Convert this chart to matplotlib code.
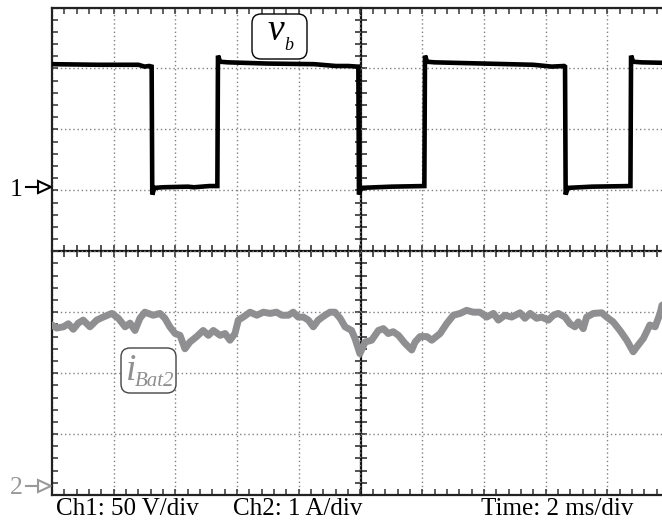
import matplotlib
matplotlib.use("Agg")
import matplotlib.pyplot as plt
from matplotlib.ticker import MultipleLocator, NullFormatter
from matplotlib.patches import FancyBboxPatch, Polygon
from matplotlib.lines import Line2D

# ---------------- data ----------------
TIME_PER_DIV = 2.0      # ms/div
CH1_V_PER_DIV = 50.0    # V/div
CH2_A_PER_DIV = 1.0     # A/div
CH1_GROUND_DIV = 5.0    # ch1 reference marker position (div from bottom)
CH2_GROUND_DIV = 0.0

# Ch1: v_b  (time in ms, voltage in V)
t_vb = [0.00, 1.50, 2.80, 3.00, 3.15, 3.23, 3.25, 3.32, 3.60, 4.40, 4.60, 5.10, 5.36,
        5.38, 5.45, 5.70, 7.00, 8.50, 9.20, 9.60, 9.90, 9.93,
        9.95, 10.02, 11.00, 12.07,
        12.09, 12.16, 12.40, 14.00, 15.60, 16.20, 16.60, 16.63,
        16.65, 16.72, 17.50, 18.75,
        18.77, 18.84, 19.10, 20.00]
v_vb = [103.5, 103.0, 103.0, 101.5, 102.0, 101.5, -3.5, 2.0, 2.5, 3.0, 2.5, 3.5, 3.5,
        110.5, 105.5, 105.0, 104.0, 103.5, 102.0, 102.0, 101.5, 101.5,
        -3.5, 2.0, 3.0, 3.5,
        110.5, 105.5, 105.0, 104.0, 103.0, 101.5, 102.0, 101.5,
        -3.5, 2.0, 3.0, 3.5,
        110.5, 105.5, 105.0, 104.5]

# Ch2: i_Bat2 (time in ms, current in A)
t_ib = [0.00, 0.15, 0.37, 0.53, 0.69, 0.85, 1.01, 1.23, 1.45, 1.66, 1.94, 2.15, 2.37,
        2.53, 2.69, 2.85, 3.01, 3.28, 3.50, 3.66, 3.82, 3.99, 4.15, 4.31, 4.47, 4.69,
        4.90, 5.07, 5.23, 5.45, 5.61, 5.77, 5.93, 6.04, 6.20, 6.42, 6.64, 6.85, 7.07,
        7.28, 7.45, 7.66, 7.82, 7.98, 8.15, 8.31, 8.47, 8.63, 8.85, 9.01, 9.17, 9.34,
        9.50, 9.71, 9.82, 9.98, 10.15, 10.36, 10.58, 10.74, 10.90, 11.06, 11.23, 11.44,
        11.66, 11.77, 11.93, 12.15, 12.31, 12.58, 12.79, 13.01, 13.23, 13.44, 13.66,
        13.87, 14.09, 14.31, 14.47, 14.68, 14.90, 15.17, 15.33, 15.50, 15.71, 15.87,
        16.09, 16.25, 16.41, 16.63, 16.79, 16.95, 17.06, 17.22, 17.33, 17.55, 17.82,
        17.98, 18.19, 18.41, 18.63, 18.84, 19.00, 19.17, 19.38, 19.55, 19.71, 19.77, 20.0]
i_ib = [2.79, 2.74, 2.76, 2.81, 2.72, 2.82, 2.87, 2.76, 2.87, 2.92, 2.98, 2.90, 2.76,
        2.82, 2.70, 2.90, 3.00, 2.95, 2.98, 2.90, 2.76, 2.65, 2.62, 2.40, 2.51, 2.60,
        2.70, 2.62, 2.70, 2.62, 2.65, 2.54, 2.65, 2.87, 2.92, 3.00, 2.95, 3.00, 2.98,
        3.00, 2.95, 2.95, 3.00, 2.92, 2.92, 2.87, 2.76, 2.87, 2.95, 3.00, 3.00, 2.90,
        2.76, 2.70, 2.57, 2.32, 2.51, 2.54, 2.70, 2.73, 2.65, 2.68, 2.62, 2.49,
        2.38, 2.51, 2.60, 2.60, 2.54, 2.65, 2.81, 2.95, 2.98, 3.03, 3.00,
        3.00, 2.92, 2.98, 2.87, 2.95, 2.92, 2.99, 2.90, 2.98, 2.90, 2.92,
        2.87, 2.95, 2.98, 2.92, 2.81, 2.76, 2.84, 2.73, 2.92, 2.98, 2.99,
        2.92, 2.84, 2.70, 2.54, 2.35, 2.46, 2.57, 2.79, 2.76, 2.98, 3.11, 3.20]

scale_texts = ["Ch1: 50 V/div", "Ch2: 1 A/div", "Time: 2 ms/div"]
label_vb = ("v", "b")
label_ib = ("i", "Bat2")

# ---------------- figure ----------------
W, H = 662, 522
SERIF = ["Liberation Serif", "DejaVu Serif"]
fig = plt.figure(figsize=(W / 100, H / 100), dpi=100)
fig.patch.set_facecolor("white")

def P(x, y):
    """pixel (top-left origin) -> inches for fig.dpi_scale_trans"""
    return (x / 100.0, (H - y) / 100.0)

L, R, T, B = 52, 669, 7.5, 495
ax = fig.add_axes([L / W, 1 - B / H, (R - L) / W, (B - T) / H])
ax.set_xlim(0, 10 * TIME_PER_DIV)
ax.set_ylim(0, 8)

ax.xaxis.set_major_locator(MultipleLocator(TIME_PER_DIV))
ax.xaxis.set_minor_locator(MultipleLocator(TIME_PER_DIV / 5))
ax.yaxis.set_major_locator(MultipleLocator(1))
ax.yaxis.set_minor_locator(MultipleLocator(0.2))
ax.xaxis.set_major_formatter(NullFormatter())
ax.yaxis.set_major_formatter(NullFormatter())
ax.tick_params(which="both", direction="in", length=4.5, width=1.1, color="#333333",
               top=True, right=True, bottom=True, left=True,
               labelbottom=False, labelleft=False)
ax.grid(which="major", linestyle=(0, (1, 2)), color="#808080", linewidth=1.0)
for s in ax.spines.values():
    s.set_linewidth(1.6)
    s.set_color("#222222")

# centre cross-hair with ticks
secx = ax.secondary_xaxis(0.5)
secx.xaxis.set_major_locator(MultipleLocator(TIME_PER_DIV))
secx.xaxis.set_minor_locator(MultipleLocator(TIME_PER_DIV / 5))
secx.xaxis.set_major_formatter(NullFormatter())
secx.tick_params(which="both", direction="inout", length=9, width=1.1, color="#222222",
                 labeltop=False, labelbottom=False)
for s in secx.spines.values():
    s.set_linewidth(1.6)
    s.set_color("#111111")
secy = ax.secondary_yaxis(0.5)
secy.yaxis.set_major_locator(MultipleLocator(1))
secy.yaxis.set_minor_locator(MultipleLocator(0.2))
secy.yaxis.set_major_formatter(NullFormatter())
secy.tick_params(which="both", direction="inout", length=9, width=1.1, color="#222222",
                 labelleft=False, labelright=False)
for s in secy.spines.values():
    s.set_linewidth(1.6)
    s.set_color("#111111")

# traces
ax.plot(t_ib, [CH2_GROUND_DIV + i / CH2_A_PER_DIV for i in i_ib], color="#8f8f91",
        lw=5.0, solid_joinstyle="round", solid_capstyle="round", zorder=5)
ax.plot(t_vb, [CH1_GROUND_DIV + v / CH1_V_PER_DIV for v in v_vb], color="black",
        lw=3.3, solid_joinstyle="miter", zorder=6)

tr = fig.dpi_scale_trans

# v_b label box
fig.patches.append(FancyBboxPatch(P(252, 59), 55 / 100, 45 / 100,
                                  boxstyle="round,pad=0,rounding_size=0.09",
                                  transform=tr, fc="white", ec="black", lw=1.0, zorder=10))
fig.text(*P(267, 40), label_vb[0], transform=tr, fontsize=27, fontstyle="italic",
         family=SERIF, ha="left", va="baseline", zorder=11)
fig.text(*P(284, 50), label_vb[1], transform=tr, fontsize=13, fontstyle="italic",
         family=SERIF, ha="left", va="baseline", zorder=11)

# i_Bat2 label box
GRAY_T = "#8f8f91"
fig.patches.append(FancyBboxPatch(P(121, 393), 55 / 100, 45 / 100,
                                  boxstyle="round,pad=0,rounding_size=0.09",
                                  transform=tr, fc="white", ec="#444444", lw=1.0, zorder=10))
fig.text(*P(126, 380), label_ib[0], transform=tr, fontsize=27, fontstyle="italic",
         family=SERIF, color=GRAY_T, ha="left", va="baseline", zorder=11)
fig.text(*P(135, 386), label_ib[1], transform=tr, fontsize=15, fontstyle="italic",
         family=SERIF, color=GRAY_T, ha="left", va="baseline", zorder=11)

# channel reference markers
def marker(y, txt, color):
    fig.text(*P(23, y + 8.5), txt, transform=tr, fontsize=18.5, family=SERIF,
             color=color, ha="right", va="baseline")
    fig.lines.append(Line2D([26 / 100, 38 / 100], [(H - y) / 100] * 2, transform=tr,
                            color=color, lw=1.5))
    fig.patches.append(Polygon([P(38, y - 6), P(38, y + 6), P(51, y)], closed=True,
                               transform=tr, fc="white", ec=color, lw=1.5))

marker(187, "1", "black")
marker(486, "2", "#999999")

# bottom scale texts
fig.text(*P(56, 515), scale_texts[0], transform=tr, fontsize=18, family=SERIF,
         ha="left", va="baseline")
fig.text(*P(233, 515), scale_texts[1], transform=tr, fontsize=18, family=SERIF,
         ha="left", va="baseline")
fig.text(*P(481, 515), scale_texts[2], transform=tr, fontsize=18, family=SERIF,
         ha="left", va="baseline")

fig.savefig("out.png", dpi=100)
